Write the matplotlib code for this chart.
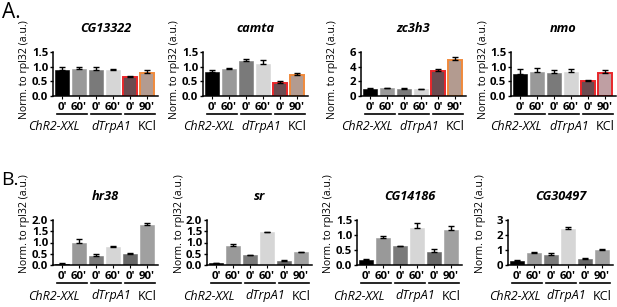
import matplotlib
matplotlib.use("Agg")
import matplotlib.pyplot as plt

W, H = 617, 307

plt.rcParams["font.family"] = ["Open Sans", "DejaVu Sans"]

# data
conditions = ["0'", "60'", "0'", "60'", "0'", "90'"]
groups = ["ChR2-XXL", "dTrpA1", "KCl"]

genes_a = ["CG13322", "camta", "zc3h3", "nmo"]
means_a = [
    [0.88, 0.93, 0.90, 0.88, 0.65, 0.80],
    [0.82, 0.92, 1.20, 1.10, 0.45, 0.70],
    [1.00, 1.05, 1.00, 0.90, 3.40, 4.90],
    [0.75, 0.82, 0.77, 0.83, 0.50, 0.80],
]
errs_a = [
    [0.10, 0.05, 0.10, 0.03, 0.02, 0.08],
    [0.05, 0.04, 0.07, 0.12, 0.05, 0.10],
    [0.03, 0.05, 0.10, 0.05, 0.30, 0.40],
    [0.17, 0.15, 0.10, 0.08, 0.05, 0.10],
]
yticks_a = [
    [0.0, 0.5, 1.0, 1.5],
    [0.0, 0.5, 1.0, 1.5],
    [0, 2, 4, 6],
    [0.0, 0.5, 1.0, 1.5],
]

genes_b = ["hr38", "sr", "CG14186", "CG30497"]
means_b = [
    [0.05, 0.97, 0.40, 0.78, 0.48, 1.78],
    [0.07, 0.85, 0.43, 1.45, 0.20, 0.58],
    [0.18, 0.90, 0.62, 1.25, 0.45, 1.18],
    [0.30, 0.78, 0.70, 2.38, 0.43, 1.03],
]
errs_b = [
    [0.04, 0.17, 0.10, 0.07, 0.04, 0.07],
    [0.02, 0.07, 0.02, 0.01, 0.02, 0.02],
    [0.02, 0.06, 0.02, 0.15, 0.07, 0.13],
    [0.02, 0.10, 0.08, 0.15, 0.04, 0.04],
]
yticks_b = [
    [0.0, 0.5, 1.0, 1.5, 2.0],
    [0.0, 0.5, 1.0, 1.5, 2.0],
    [0.0, 0.5, 1.0, 1.5],
    [0, 1, 2, 3],
]

# styling
fills_a = [
    ["#000000", "#999999", "#7a7a7a", "#d6d6d6", "#6b4b50", "#b39b90"],
    ["#000000", "#999999", "#7a7a7a", "#d6d6d6", "#6b4b50", "#b39b90"],
    ["#000000", "#999999", "#7a7a7a", "#d6d6d6", "#6b4b50", "#b39b90"],
    ["#000000", "#999999", "#7a7a7a", "#d6d6d6", "#6b4b50", "#bf9fa3"],
]
edges_a = [
    [None, None, None, None, "#e8262a", "#f08a3c"],
    [None, None, None, None, "#e8262a", "#f08a3c"],
    [None, None, None, None, "#e8262a", "#f08a3c"],
    [None, None, None, None, "#e8262a", "#e8262a"],
]
fills_b = ["#000000", "#999999", "#7a7a7a", "#d6d6d6", "#686868", "#a0a0a0"]

lefts_a = [53, 203, 361, 511]
lefts_b = [53, 207, 357, 508]
chr_x_a = [-0.5, -0.2, -0.2, -0.25]
chr_x_b = [-0.5, -0.4, -0.4, -0.15]
AX_W = 105


def fig_rect(left, top, bottom):
    return [left / W, (H - bottom) / H, AX_W / W, (bottom - top) / H]


def draw_panel(fig, rect, gene, means, errs, yticks, fills, edges, chr_x, ylab_dy):
    ax = fig.add_axes(rect)
    x = list(range(len(means)))
    for i in x:
        ec = edges[i] if edges[i] else fills[i]
        lw = 1.4 if edges[i] else 0.4
        ax.bar(i, means[i], width=0.78, color=fills[i], edgecolor=ec,
               linewidth=lw, zorder=2)
        ax.errorbar(i, means[i], yerr=[[0], [errs[i]]], fmt="none",
                    ecolor="black", elinewidth=1.0, capsize=2.4,
                    capthick=1.0, zorder=3)
    ax.set_xlim(-0.53, 5.65)
    ax.set_ylim(yticks[0], yticks[-1])
    ax.set_yticks(yticks)
    if isinstance(yticks[1], float):
        ax.set_yticklabels([f"{t:.1f}" for t in yticks])
    ax.set_xticks(x)
    ax.set_xticklabels(conditions)
    for s in ["top", "right"]:
        ax.spines[s].set_visible(False)
    for s in ["left", "bottom"]:
        ax.spines[s].set_linewidth(1.1)
    ax.tick_params(axis="y", length=2.5, width=1.0, pad=1,
                   labelsize=8.2, direction="out")
    ax.tick_params(axis="x", length=2, width=0.8, pad=2,
                   labelsize=8.2, direction="out")
    for lab in ax.get_xticklabels() + ax.get_yticklabels():
        lab.set_fontweight("bold")

    hpx = rect[3] * H
    ax.text(0.5, 1 + 24 / hpx, gene, transform=ax.transAxes, ha="center",
            va="center", fontsize=9.2, fontweight="bold", style="italic")
    ax.text(-28 / AX_W, 0.5 + ylab_dy / hpx, "Norm. to rpl32 (a.u.)",
            transform=ax.transAxes, rotation=90, ha="center", va="center",
            fontsize=7.6)

    tr = ax.get_xaxis_transform()
    for g in range(3):
        ax.plot([2 * g - 0.32, 2 * g + 1.45], [-18 / hpx] * 2, color="black",
                lw=1.2, transform=tr, clip_on=False)
    ax.text(chr_x, -31 / hpx, groups[0], transform=tr, ha="center",
            va="center", fontsize=9, style="italic")
    ax.text(2.9, -31 / hpx, groups[1], transform=tr, ha="center",
            va="center", fontsize=9, style="italic")
    ax.text(5.0, -31 / hpx, groups[2], transform=tr, ha="center",
            va="center", fontsize=9)
    return ax


def main():
    fig = plt.figure(figsize=(W / 100, H / 100), dpi=100)

    for k in range(4):
        draw_panel(fig, fig_rect(lefts_a[k], 52, 96), genes_a[k], means_a[k],
                   errs_a[k], yticks_a[k], fills_a[k], edges_a[k],
                   chr_x_a[k], 4)
        draw_panel(fig, fig_rect(lefts_b[k], 220, 265), genes_b[k],
                   means_b[k], errs_b[k], yticks_b[k], fills_b,
                   [None] * 6, chr_x_b[k], 19)

    fig.text(2 / W, 1 - 13 / H, "A.", fontsize=15, ha="left", va="center")
    fig.text(1 / W, 1 - 180 / H, "B.", fontsize=14, ha="left", va="center")

    fig.savefig("out.png", dpi=100)


if __name__ == "__main__":
    main()
